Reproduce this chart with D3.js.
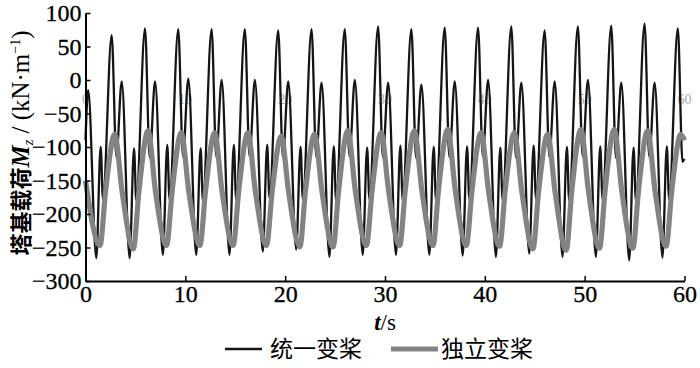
<!DOCTYPE html>
<html>
<head>
<meta charset="utf-8">
<script src="https://cdn.jsdelivr.net/npm/d3@7"></script>
<style>
  body { margin: 0; background: #fff; }
  .tick text { font-family: "Liberation Serif", "DejaVu Serif", serif; }
</style>
</head>
<body>
<div id="chart-area"></div>
<script>
// black = 统一变桨, gray = 独立变桨
var blackSeries = [
    [0, -90], [0.27, -15],
    [1.08, -266], [1.52, -100], [1.75, -178], [2.62, 67], [3.09, -115], [3.63, -2],
    [4.42, -266], [4.86, -102], [5.09, -180], [5.96, 77], [6.43, -116], [6.97, -2],
    [7.75, -261], [8.19, -97], [8.42, -178], [9.29, 76], [9.76, -114], [10.30, 2],
    [11.09, -261], [11.53, -102], [11.76, -180], [12.63, 76], [13.10, -115], [13.64, 0],
    [14.42, -261], [14.86, -97], [15.09, -178], [15.96, 76], [16.43, -114], [16.97, 0],
    [17.76, -256], [18.20, -97], [18.43, -176], [19.30, 74], [19.77, -116], [20.31, -2],
    [21.10, -253], [21.54, -100], [21.77, -178], [22.64, 76], [23.11, -115], [23.65, -4],
    [24.43, -264], [24.87, -99], [25.10, -180], [25.97, 76], [26.44, -114], [26.98, 0],
    [27.77, -261], [28.21, -101], [28.44, -178], [29.31, 80], [29.78, -115], [30.32, -4],
    [31.10, -261], [31.54, -98], [31.77, -179], [32.64, 76], [33.11, -116], [33.65, -7],
    [34.44, -261], [34.88, -100], [35.11, -180], [35.98, 78], [36.45, -115], [36.99, -2],
    [37.78, -262], [38.22, -99], [38.45, -178], [39.32, 78], [39.79, -114], [40.33, 0],
    [41.11, -264], [41.55, -101], [41.78, -179], [42.65, 80], [43.12, -116], [43.66, -4],
    [44.45, -259], [44.89, -98], [45.12, -177], [45.99, 74], [46.46, -115], [47.00, -2],
    [47.78, -264], [48.22, -100], [48.45, -180], [49.32, 80], [49.79, -114], [50.33, 0],
    [51.12, -264], [51.56, -99], [51.79, -178], [52.66, 81], [53.13, -116], [53.67, -4],
    [54.46, -269], [54.90, -101], [55.13, -180], [56.00, 84], [56.47, -115], [57.01, -4],
    [57.79, -265], [58.23, -99], [58.46, -178], [59.33, 77], [59.80, -122], [60, -118]
];

var graySeries = [
    [0, -150],
    [1.45, -247], [2.02, -165], [2.92, -81], [3.69, -169],
    [4.79, -252], [5.36, -165], [6.26, -76], [7.03, -169],
    [8.12, -247], [8.69, -164], [9.59, -79], [10.36, -168],
    [11.46, -247], [12.03, -165], [12.93, -79], [13.70, -169],
    [14.79, -247], [15.36, -164], [16.26, -79], [17.03, -168],
    [18.13, -247], [18.70, -166], [19.60, -84], [20.37, -170],
    [21.47, -249], [22.04, -165], [22.94, -81], [23.71, -169],
    [24.80, -249], [25.37, -163], [26.27, -76], [27.04, -167],
    [28.14, -247], [28.71, -164], [29.61, -79], [30.38, -168],
    [31.47, -247], [32.04, -163], [32.94, -76], [33.71, -167],
    [34.81, -247], [35.38, -161], [36.28, -74], [37.05, -166],
    [38.15, -247], [38.72, -164], [39.62, -79], [40.39, -168],
    [41.48, -248], [42.05, -164], [42.95, -79], [43.72, -168],
    [44.82, -252], [45.39, -166], [46.29, -81], [47.06, -170],
    [48.15, -254], [48.72, -164], [49.62, -74], [50.39, -167],
    [51.49, -251], [52.06, -163], [52.96, -74], [53.73, -167],
    [54.83, -251], [55.40, -164], [56.30, -76], [57.07, -168],
    [58.16, -248], [58.73, -165], [59.63, -81], [60, -90]
];

var xTicks = [0, 10, 20, 30, 40, 50, 60];
var yTicks = [100, 50, 0, -50, -100, -150, -200, -250, -300];
var legendNames = ["统一变桨", "独立变桨"];

var margin = {top: 13, right: 15.5, bottom: 87, left: 85.5},
    width = 700 - margin.left - margin.right,
    height = 368 - margin.top - margin.bottom;

var svg = d3.select("#chart-area")
    .append("svg")
    .attr("width", 700)
    .attr("height", 368)
    .append("g")
    .attr("transform", "translate(" + margin.left + "," + margin.top + ")");

var xScale = d3.scaleLinear().domain([0, 60]).range([0, width]);
var yScale = d3.scaleLinear().domain([-300, 100]).range([height, 0]);

// faint leftover labels behind the curves
svg.append("g").selectAll("text")
    .data(xTicks)
    .enter()
    .append("text")
    .attr("x", d => xScale(d))
    .attr("y", yScale(-30) + 4)
    .attr("text-anchor", "middle")
    .style("font-family", "Liberation Serif, serif")
    .style("font-size", "14px")
    .style("fill", "#a8a8a8")
    .text(d => d);

var line = d3.line()
    .x(d => xScale(d[0]))
    .y(d => yScale(d[1]))
    .curve(d3.curveMonotoneX);

svg.append("path")
    .datum(blackSeries)
    .attr("fill", "none")
    .attr("stroke", "#151515")
    .attr("stroke-width", 2.3)
    .attr("stroke-linejoin", "round")
    .attr("d", line);

svg.append("path")
    .datum(graySeries)
    .attr("fill", "none")
    .attr("stroke", "#838383")
    .attr("stroke-width", 5.2)
    .attr("stroke-linejoin", "round")
    .attr("d", line);

var xAxis = svg.append("g")
    .attr("transform", "translate(0," + height + ")")
    .call(d3.axisBottom(xScale).tickValues(xTicks).tickSizeInner(-5).tickSizeOuter(0).tickPadding(4));

var yAxis = svg.append("g")
    .call(d3.axisLeft(yScale).tickValues(yTicks).tickSizeInner(-5).tickSizeOuter(0).tickPadding(4));

[xAxis, yAxis].forEach(function(ax) {
    ax.select(".domain").attr("stroke", "#000").attr("stroke-width", 2);
    ax.selectAll(".tick line").attr("stroke", "#000").attr("stroke-width", 1.5);
    ax.selectAll(".tick text")
        .style("font-size", "24px")
        .style("fill", "#000")
        .style("stroke", "#000")
        .style("stroke-width", 0.3);
});

// x axis title
var xt = svg.append("text")
    .attr("x", width / 2)
    .attr("y", height + 49)
    .attr("text-anchor", "middle")
    .style("font-family", "Liberation Serif, serif")
    .style("font-size", "23px");
xt.append("tspan").style("font-style", "italic").style("font-weight", "bold").text("t");
xt.append("tspan").text("/s");

// y axis title
var yt = svg.append("text")
    .attr("transform", "rotate(-90)")
    .attr("x", -130)
    .attr("y", -57)
    .attr("text-anchor", "middle")
    .style("font-family", "Liberation Serif, serif")
    .style("font-size", "25px");
yt.append("tspan").style("font-family", "Noto Sans CJK SC").style("font-size", "22px").style("font-weight", "bold").text("塔基载荷");
yt.append("tspan").style("font-style", "italic").style("font-weight", "bold").text("M");
yt.append("tspan").attr("dy", 4).style("font-size", "14px").style("font-style", "italic").text("z");
yt.append("tspan").attr("dy", -4).text(" / (kN·m");
yt.append("tspan").attr("dy", -9).style("font-size", "14px").text("−1");
yt.append("tspan").attr("dy", 9).text(")");

// legend
var legend = svg.append("g")
    .attr("transform", "translate(" + (-margin.left) + "," + (-margin.top) + ")");

legend.append("line")
    .attr("x1", 225).attr("x2", 262)
    .attr("y1", 349).attr("y2", 349)
    .attr("stroke", "#151515").attr("stroke-width", 2.3);
legend.append("text")
    .attr("x", 270).attr("y", 357)
    .style("font-family", "Noto Sans CJK SC")
    .style("font-size", "23px")
    .text(legendNames[0]);

legend.append("line")
    .attr("x1", 391).attr("x2", 438)
    .attr("y1", 349).attr("y2", 349)
    .attr("stroke", "#838383").attr("stroke-width", 5.2);
legend.append("text")
    .attr("x", 441).attr("y", 357)
    .style("font-family", "Noto Sans CJK SC")
    .style("font-size", "23px")
    .text(legendNames[1]);
</script>
</body>
</html>
